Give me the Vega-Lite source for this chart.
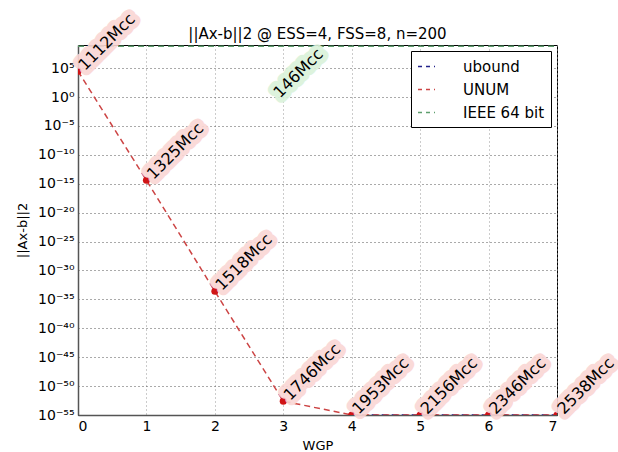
{
  "$schema": "https://vega.github.io/schema/vega-lite/v6.json",
  "width": 479,
  "height": 370,
  "autosize": {"type": "none"},
  "padding": {"left": 78, "top": 45, "right": 61, "bottom": 37},
  "background": "white",
  "title": {"text": "||Ax-b||2 @ ESS=4, FSS=8, n=200", "fontSize": 15, "font": "DejaVu Sans", "fontWeight": "normal", "offset": 5, "dy": 36, "color": "black"},
  "config": {"view": {"stroke": "black", "strokeWidth": 1}, "font": "DejaVu Sans"},
  "datasets": {
    "lines": [
      {"series": "IEEE 64 bit", "x": 0, "y": 6e8},
      {"series": "IEEE 64 bit", "x": 1, "y": 6e8},
      {"series": "IEEE 64 bit", "x": 2, "y": 6e8},
      {"series": "IEEE 64 bit", "x": 3, "y": 6e8},
      {"series": "IEEE 64 bit", "x": 4, "y": 6e8},
      {"series": "IEEE 64 bit", "x": 5, "y": 6e8},
      {"series": "IEEE 64 bit", "x": 6, "y": 6e8},
      {"series": "IEEE 64 bit", "x": 7, "y": 6e8},
      {"series": "ubound", "x": 4, "y": 1e-55},
      {"series": "ubound", "x": 5, "y": 1e-55},
      {"series": "ubound", "x": 6, "y": 1e-55},
      {"series": "ubound", "x": 7, "y": 1e-55},
      {"series": "UNUM", "x": 0, "y": 3e4},
      {"series": "UNUM", "x": 1, "y": 4e-15},
      {"series": "UNUM", "x": 2, "y": 2.5e-34},
      {"series": "UNUM", "x": 3, "y": 2.5e-53},
      {"series": "UNUM", "x": 4, "y": 1e-55},
      {"series": "UNUM", "x": 5, "y": 1e-55},
      {"series": "UNUM", "x": 6, "y": 1e-55},
      {"series": "UNUM", "x": 7, "y": 1e-55}
    ],
    "labels": [
      {"series": "UNUM", "x": 0, "y": 3e4, "label": "1112Mcc"},
      {"series": "UNUM", "x": 1, "y": 4e-15, "label": "1325Mcc"},
      {"series": "UNUM", "x": 2, "y": 2.5e-34, "label": "1518Mcc"},
      {"series": "UNUM", "x": 3, "y": 2.5e-53, "label": "1746Mcc"},
      {"series": "UNUM", "x": 4, "y": 1e-55, "label": "1953Mcc"},
      {"series": "UNUM", "x": 5, "y": 1e-55, "label": "2156Mcc"},
      {"series": "UNUM", "x": 6, "y": 1e-55, "label": "2346Mcc"},
      {"series": "UNUM", "x": 7, "y": 1e-55, "label": "2538Mcc"},
      {"series": "IEEE 64 bit", "x": 2.85, "y": 0.5, "label": "146Mcc"}
    ]
  },
  "encoding": {
    "x": {
      "field": "x", "type": "quantitative",
      "scale": {"domain": [0, 7], "nice": false},
      "axis": {
        "title": "WGP", "values": [0, 1, 2, 3, 4, 5, 6, 7], "format": "d",
        "grid": true, "gridDash": [1, 3], "gridColor": "#999999", "gridOpacity": 1,
        "ticks": false, "labelFontSize": 14, "labelColor": "black", "labelPadding": 4,
        "titleFontSize": 13, "titleFontWeight": "normal", "titleColor": "black", "titlePadding": 6,
        "domainColor": "#555555", "domainWidth": 1.5, "labelFont": "DejaVu Sans", "titleFont": "DejaVu Sans"
      }
    },
    "y": {
      "field": "y", "type": "quantitative",
      "scale": {"type": "log", "domain": [1e-55, 1e9], "nice": false},
      "axis": {
        "title": "||Ax-b||2",
        "values": [1e5, 1, 1e-5, 1e-10, 1e-15, 1e-20, 1e-25, 1e-30, 1e-35, 1e-40, 1e-45, 1e-50, 1e-55],
        "labelExpr": "'10' + replace(replace(replace(replace(replace(replace(replace(toString(round(log(datum.value)/LN10)), regexp('-','g'), '⁻'), regexp('0','g'), '⁰'), regexp('1','g'), '¹'), regexp('2','g'), '²'), regexp('3','g'), '³'), regexp('4','g'), '⁴'), regexp('5','g'), '⁵')",
        "grid": true, "gridDash": [1, 3], "gridColor": "#555555", "gridOpacity": 1,
        "ticks": false, "labelFontSize": 14, "labelColor": "black", "labelPadding": 4,
        "titleFontSize": 13, "titleFontWeight": "normal", "titleColor": "black", "titlePadding": 8,
        "domainColor": "#555555", "domainWidth": 1.5, "labelFont": "DejaVu Sans", "titleFont": "DejaVu Sans"
      }
    }
  },
  "layer": [
    {
      "data": {"name": "lines"},
      "mark": {"type": "line", "strokeDash": [6, 4], "strokeWidth": 1.5, "clip": true},
      "encoding": {
        "color": {
          "field": "series", "type": "nominal",
          "scale": {"domain": ["ubound", "UNUM", "IEEE 64 bit"], "range": ["#22228a", "#cc4444", "#5e9e6e"]},
          "legend": {
            "title": null, "orient": "top-right", "offset": 6,
            "symbolType": "stroke", "symbolDash": [4, 4], "symbolStrokeWidth": 1.5, "symbolSize": 289,
            "labelFontSize": 15, "labelFont": "DejaVu Sans", "labelColor": "black", "labelOffset": 27,
            "fillColor": "white", "strokeColor": "black", "padding": 6, "rowPadding": 5
          }
        },
        "order": {"field": "x", "type": "quantitative"}
      }
    },
    {
      "data": {"name": "lines"},
      "transform": [{"filter": "datum.series == 'UNUM'"}],
      "mark": {"type": "circle", "size": 50, "color": "#d01515", "opacity": 1, "clip": true}
    },
    {
      "data": {"name": "labels"},
      "mark": {"type": "text", "angle": -45, "align": "left", "baseline": "middle", "dx": 5, "fontSize": 16, "font": "DejaVu Sans", "strokeWidth": 11, "strokeJoin": "round", "opacity": 0.9},
      "encoding": {
        "text": {"field": "label"},
        "stroke": {"field": "series", "type": "nominal", "scale": {"domain": ["UNUM", "IEEE 64 bit"], "range": ["#fad6d4", "#daf2da"]}, "legend": null},
        "fill": {"field": "series", "type": "nominal", "scale": {"domain": ["UNUM", "IEEE 64 bit"], "range": ["#fad6d4", "#daf2da"]}, "legend": null}
      }
    },
    {
      "data": {"name": "labels"},
      "mark": {"type": "text", "angle": -45, "align": "left", "baseline": "middle", "dx": 5, "fontSize": 16, "font": "DejaVu Sans", "color": "black"},
      "encoding": {
        "text": {"field": "label"}
      }
    }
  ]
}
